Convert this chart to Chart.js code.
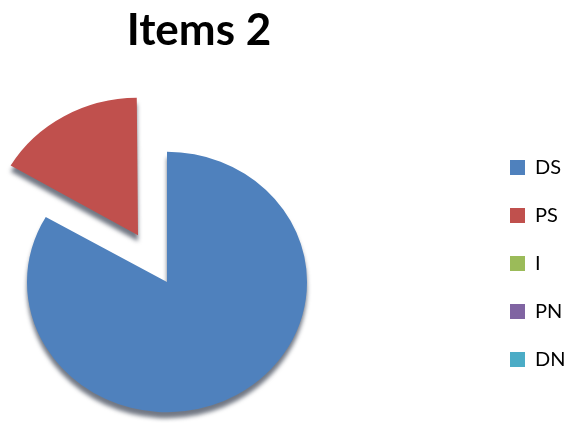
<!DOCTYPE html>
<html>
<head>
<meta charset="utf-8">
<script src="https://cdn.jsdelivr.net/npm/chart.js@4"></script>
<style>
  html, body { margin: 0; padding: 0; background: #fff; }
  #wrap { width: 568px; height: 423px; }
</style>
</head>
<body>
<div id="wrap"><canvas id="pie"></canvas></div>
<script>
// ── Data ─────────────────────────────────────────────────────────
const categories = ["DS", "PS", "I", "PN", "DN"];
const itemCounts = [5, 1, 0, 0, 0];
const sliceColors = ["#4f81bd", "#c0504d", "#9bbb59", "#8064a2", "#4bacc6"];
const explode = [0, 232, 0, 0, 0];   // chart.js moves a slice by offset/4

// where the pie sits on the canvas, and the slight 3D squash
const PIE_CX = 167;
const PIE_CY = 282;
const PIE_TILT = 0.93;

// move the pie to the left part of the canvas (layout centres it otherwise)
const pieFrame = {
  id: "pieFrame",
  afterLayout(chart) {
    const a = chart.chartArea;
    const w = a.right - a.left, h = a.bottom - a.top;
    a.left = PIE_CX - w / 2; a.right = PIE_CX + w / 2;
    a.top = PIE_CY - h / 2;  a.bottom = PIE_CY + h / 2;
  },
  beforeDatasetsDraw(chart) {
    const ctx = chart.ctx;
    ctx.save();
    ctx.translate(PIE_CX, PIE_CY);
    ctx.scale(1, PIE_TILT);
    ctx.translate(-PIE_CX, -PIE_CY);
    // dark rim under the slices, stands in for the 3D side
    ctx.shadowColor = "rgba(20,30,50,0.6)";
    ctx.shadowBlur = 4;
    ctx.shadowOffsetX = 0;
    ctx.shadowOffsetY = 6;
  },
  afterDatasetsDraw(chart) {
    chart.ctx.restore();
  },
};

new Chart(document.getElementById("pie"), {
  type: "pie",
  data: {
    labels: categories,
    datasets: [{
      data: itemCounts,
      backgroundColor: sliceColors,
      borderWidth: 0,
      offset: explode,
      radius: 140,
      clip: false,
    }],
  },
  options: {
    responsive: true,
    maintainAspectRatio: false,
    animation: false,
    layout: { padding: { left: -170, right: 0, top: 0, bottom: 0 } },
    plugins: {
      tooltip: { enabled: false },
      title: {
        display: true,
        text: "Items 2",
        color: "#000",
        font: { family: "Lato", size: 44, weight: "bold" },
        padding: { top: 4, bottom: 20 },
      },
      legend: {
        position: "right",
        align: "start",
        maxWidth: 86,
        title: {
          display: true,
          text: "",
          font: { size: 10 },
          padding: { top: 58, bottom: 59.5 },
        },
        labels: {
          color: "#000",
          font: { family: "Lato", size: 20 },
          boxWidth: 15,
          boxHeight: 15,
          padding: 28,
        },
      },
    },
  },
  plugins: [pieFrame],
});
</script>
</body>
</html>
